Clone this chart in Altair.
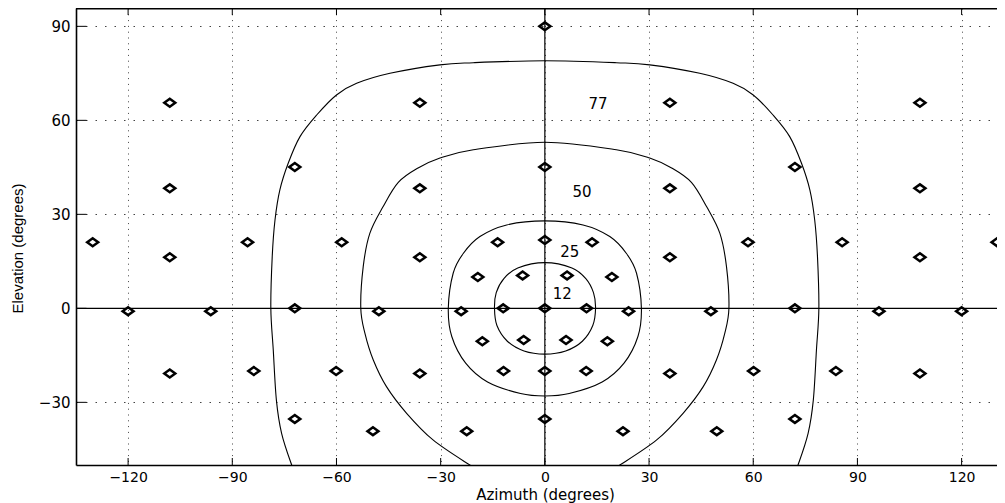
import altair as alt
import pandas as pd

# ---------------- data ----------------
X_TICKS = [-120, -90, -60, -30, 0, 30, 60, 90, 120]
Y_TICKS = [-30, 0, 30, 60, 90]

marker_az = [0,
             -108, -36, 36, 108,
             -72, 0, 72,
             -108, -36, 36, 108,
             -130.2, -85.6, -58.5, -13.6, 13.6, 58.5, 85.6, 130.2,
             0,
             -108, -36, 36, 108,
             -6.4, 6.4,
             -19.3, 19.3,
             -72, -12, 0, 12, 72,
             -120, -96.2, -47.8, -24.1, 24.1, 47.8, 96.2, 120,
             -6.1, 6.1,
             -18, 18,
             -83.8, -60.1, -11.9, 0, 11.9, 60.1, 83.8,
             -108, -36, 36, 108,
             -72, 0, 72,
             -49.5, -22.5, 22.5, 49.5]
marker_el = [90,
             65.6, 65.6, 65.6, 65.6,
             45.1, 45.1, 45.1,
             38.3, 38.3, 38.3, 38.3,
             21.1, 21.1, 21.1, 21.1, 21.1, 21.1, 21.1, 21.1,
             21.8,
             16.3, 16.3, 16.3, 16.3,
             10.5, 10.5,
             10.0, 10.0,
             0, 0, 0, 0, 0,
             -0.9, -0.9, -0.9, -0.9, -0.9, -0.9, -0.9, -0.9,
             -10.1, -10.1,
             -10.5, -10.5,
             -20, -20, -20, -20, -20, -20, -20,
             -20.8, -20.8, -20.8, -20.8,
             -35.3, -35.3, -35.3,
             -39.2, -39.2, -39.2, -39.2]

# closed contours (traced)
c12_az = [0, 7.8, 11.8, 14.0, 14.6, 13.8, 10.8, 6.0, 0, -6.0, -10.8, -13.8, -14.5, -14.0, -11.8, -7.8]
c12_el = [14.6, 12.9, 9.5, 5.0, 0, -5.5, -10.5, -13.6, -14.6, -13.6, -10.5, -5.5, 0, 5.0, 9.5, 12.9]

c25_az = [0, 11.0, 18.7, 23.5, 26.4, 27.8, 26.8, 22.8, 16.5, 7.0, 0,
          -7.0, -16.5, -22.8, -26.8, -27.8, -26.4, -23.5, -18.7, -11.0]
c25_el = [27.9, 26.6, 22.9, 17.5, 11.2, 0, -9.0, -17.5, -23.5, -27.2, -28.0,
          -27.2, -23.5, -17.5, -9.0, 0, 11.2, 17.5, 22.9, 26.6]

# open contours, cut by the bottom of the plot (traced)
c50_az = [-14, -21.6, -32.2, -39.8, -45.6, -49.4, -51.8, -53.0, -52.3, -50.4, -46.6, -42.2, -36.5, -30.2, -20.6, 0,
          20.6, 30.2, 36.5, 42.2, 46.6, 50.4, 52.3, 53.0, 51.8, 49.4, 45.6, 39.8, 32.2, 21.6, 14]
c50_el = [-55, -50, -42.0, -33.5, -25.0, -16.5, -8.0, 0, 13.3, 23.9, 32.4, 40.2, 44.8, 48.0, 50.6, 53.0,
          50.6, 48.0, 44.8, 40.2, 32.4, 23.9, 13.3, 0, -8.0, -16.5, -25.0, -33.5, -42.0, -50, -55]

c77_az = [-71, -72.9, -75.8, -77.3, -78.2, -78.9, -78.5, -77.7, -76.3, -73.9, -70.5, -65.7, -60.0, -54.2, -44.6, -30.2, -20.6, 0,
          20.6, 30.2, 44.6, 54.2, 60.0, 65.7, 70.5, 73.9, 76.3, 77.7, 78.5, 78.9, 78.2, 77.3, 75.8, 72.9, 71]
c77_el = [-55, -50, -39.9, -29.3, -13.3, 0, 16.5, 28.2, 37.8, 46.3, 54.8, 61.7, 68.1, 71.8, 75.0, 77.7, 78.4, 79.0,
          78.4, 77.7, 75.0, 71.8, 68.1, 61.7, 54.8, 46.3, 37.8, 28.2, 16.5, 0, -13.3, -29.3, -39.9, -50, -55]

label_text = ["77", "50", "25", "12"]
label_az = [15.3, 10.7, 7.2, 5.0]
label_el = [65.2, 37.0, 17.9, 4.6]

# ---------------- chart ----------------
W, H = 921, 457
xs = alt.Scale(domain=[-135, 130.19], nice=False, zero=False)
ys = alt.Scale(domain=[-50, 95.85], nice=False, zero=False)

FONT = "DejaVu Sans"
x_axis = alt.Axis(values=X_TICKS, title="Azimuth (degrees)", ticks=False, labelPadding=5,
                  grid=True, gridDash=[1, 4.8], gridColor="#444", gridWidth=1,
                  domain=True, domainColor="black", domainWidth=1.6,
                  labelFont=FONT, labelFontSize=14, labelColor="black", labelFlush=False,
                  titleFont=FONT, titleFontSize=15, titleFontWeight="normal", titleColor="black",
                  titleX=469, titleY=29, titleBaseline="middle")
y_axis = alt.Axis(values=Y_TICKS, title="Elevation (degrees)", ticks=False, labelPadding=6,
                  grid=True, gridDash=[1.5, 8], gridColor="#444", gridWidth=1,
                  domain=True, domainColor="black", domainWidth=1.6,
                  labelFont=FONT, labelFontSize=15, labelColor="black", labelFlush=False,
                  titleFont="Liberation Sans", titleFontSize=15, titleFontWeight="normal", titleColor="black",
                  titleX=-59, titleY=240, titleBaseline="middle", titleAngle=270)

X = alt.X("az:Q", scale=xs, axis=x_axis)
Y = alt.Y("el:Q", scale=ys, axis=y_axis)

markers = pd.DataFrame({"az": marker_az, "el": marker_el})

def loop(name, a, e):
    return pd.DataFrame({"c": name, "i": list(range(len(a))), "az": a, "el": e})

closed = pd.concat([loop("12", c12_az, c12_el), loop("25", c25_az, c25_el)])
opened = pd.concat([loop("50", c50_az, c50_el), loop("77", c77_az, c77_el)])
labels = pd.DataFrame({"t": label_text, "az": label_az, "el": label_el})

vline = alt.Chart(pd.DataFrame({"az": [0]})).mark_rule(color="black", strokeWidth=1.2).encode(x=X)
hline = alt.Chart(pd.DataFrame({"el": [0]})).mark_rule(color="black", strokeWidth=1.2).encode(y=Y)

closed_lines = alt.Chart(closed).mark_line(color="black", strokeWidth=1.1, clip=True,
                                           interpolate="cardinal-closed").encode(
    x=X, y=Y, detail="c:N", order="i:Q")
open_lines = alt.Chart(opened).mark_line(color="black", strokeWidth=1.1, clip=True,
                                         interpolate="cardinal").encode(
    x=X, y=Y, detail="c:N", order="i:Q")

points = alt.Chart(markers).mark_point(shape="M-1,0L0,-0.72L1,0L0,0.72Z", size=120, filled=False,
                                       color="black", strokeWidth=2.5, opacity=1).encode(x=X, y=Y)

texts = alt.Chart(labels).mark_text(font=FONT, fontSize=15, color="black",
                                    align="center", baseline="middle").encode(x=X, y=Y, text="t:N")

bottom_ticks = alt.Chart(pd.DataFrame({"az": X_TICKS})).mark_rule(color="black", strokeWidth=1).encode(
    x=X, y=alt.value(H), y2=alt.value(H - 7))
top_ticks = alt.Chart(pd.DataFrame({"az": X_TICKS})).mark_rule(color="black", strokeWidth=1).encode(
    x=X, y=alt.value(0), y2=alt.value(7))
left_ticks = alt.Chart(pd.DataFrame({"el": Y_TICKS})).mark_rule(color="black", strokeWidth=1).encode(
    y=Y, x=alt.value(0), x2=alt.value(10.5))
top_frame = alt.Chart(pd.DataFrame({"k": [0]})).mark_rule(color="black", strokeWidth=1.6).encode(
    x=alt.value(0), x2=alt.value(W), y=alt.value(0.8))

chart = alt.layer(vline, hline, closed_lines, open_lines, points, texts,
                  bottom_ticks, top_ticks, left_ticks, top_frame).properties(
    width=W, height=H,
    padding={"left": 68, "top": 0, "right": 0, "bottom": 38},
    autosize=alt.AutoSizeParams(type="none"),
).configure_view(stroke=None).configure(background="white")

chart.save("out.html", embed_options={"renderer": "svg", "actions": False})
